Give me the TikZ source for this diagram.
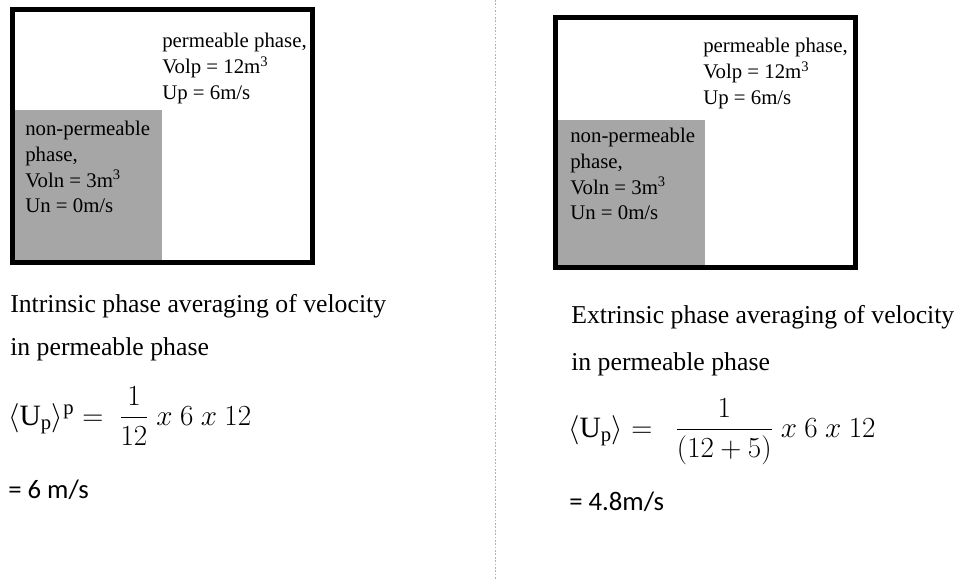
\documentclass[tikz,border=0pt]{standalone}
\usepackage{amsmath}
\usepackage{fontspec}
\setmainfont{Liberation Serif}
\newfontfamily\calfont{Carlito}
\usetikzlibrary{positioning}

\tikzset{
  phasebox/.style={draw=black, line width=3.5pt},
  solidpart/.style={fill=black!35, draw=none},
  boxtext/.style={anchor=north west, inner sep=0pt, align=left, font=\fontsize{14.8}{18.3}\selectfont},
  bigtext/.style={anchor=base west, inner sep=0pt, font=\fontsize{18.3}{22}\selectfont},
  formula/.style={anchor=base west, inner sep=0pt, font=\fontsize{21}{25}\selectfont},
  result/.style={anchor=base west, inner sep=0pt, font=\calfont\fontsize{19}{23}\selectfont}
}

\begin{document}
\begin{tikzpicture}[x=0.025cm, y=-0.025cm]
  \useasboundingbox (0,0) rectangle (962,580);

  % divider
  \draw[gray!60, dash pattern=on 1.2pt off 1.2pt] (495,0) -- (495,580);

  % intrinsic case
  \fill[solidpart] (15,110) rectangle (162,261);
  \draw[phasebox] (12.5,9.5) rectangle (312.5,262.5);
  \node[boxtext] (permL) at (162,33) {permeable phase,\\Volp = 12m\textsuperscript{3}\\Up = 6m/s};
  \node[boxtext] (solidL) at (25,121) {non-permeable\\phase,\\Voln = 3m\textsuperscript{3}\\Un = 0m/s};

  \node[bigtext] (intrA) at (10,312) {Intrinsic phase averaging of velocity};
  \node[bigtext] (intrB) at (10,355) {in permeable phase};
  \node[formula] (intrEq) at (8,425) {$\langle\mathrm{U_p}\rangle^{\mathrm{p}} =\ \dfrac{1}{12}\ x\ 6\ x\ 12$};
  \node[result] (intrRes) at (8,498) {= 6 m/s};

  % extrinsic case
  \fill[solidpart] (558,120) rectangle (705,265);
  \draw[phasebox] (555.5,17.5) rectangle (855.5,267.5);
  \node[boxtext] (permR) at (703,38) {permeable phase,\\Volp = 12m\textsuperscript{3}\\Up = 6m/s};
  \node[boxtext] (solidR) at (570,128) {non-permeable\\phase,\\Voln = 3m\textsuperscript{3}\\Un = 0m/s};

  \node[bigtext] (extrA) at (571,323) {Extrinsic phase averaging of velocity};
  \node[bigtext] (extrB) at (571,370) {in permeable phase};
  \node[formula] (extrEq) at (568,437) {$\langle\mathrm{U_p}\rangle = \ \ \dfrac{1}{(12+5)}\ x\ 6\ x\ 12$};
  \node[result] (extrRes) at (569,510) {= 4.8m/s};
\end{tikzpicture}
\end{document}
